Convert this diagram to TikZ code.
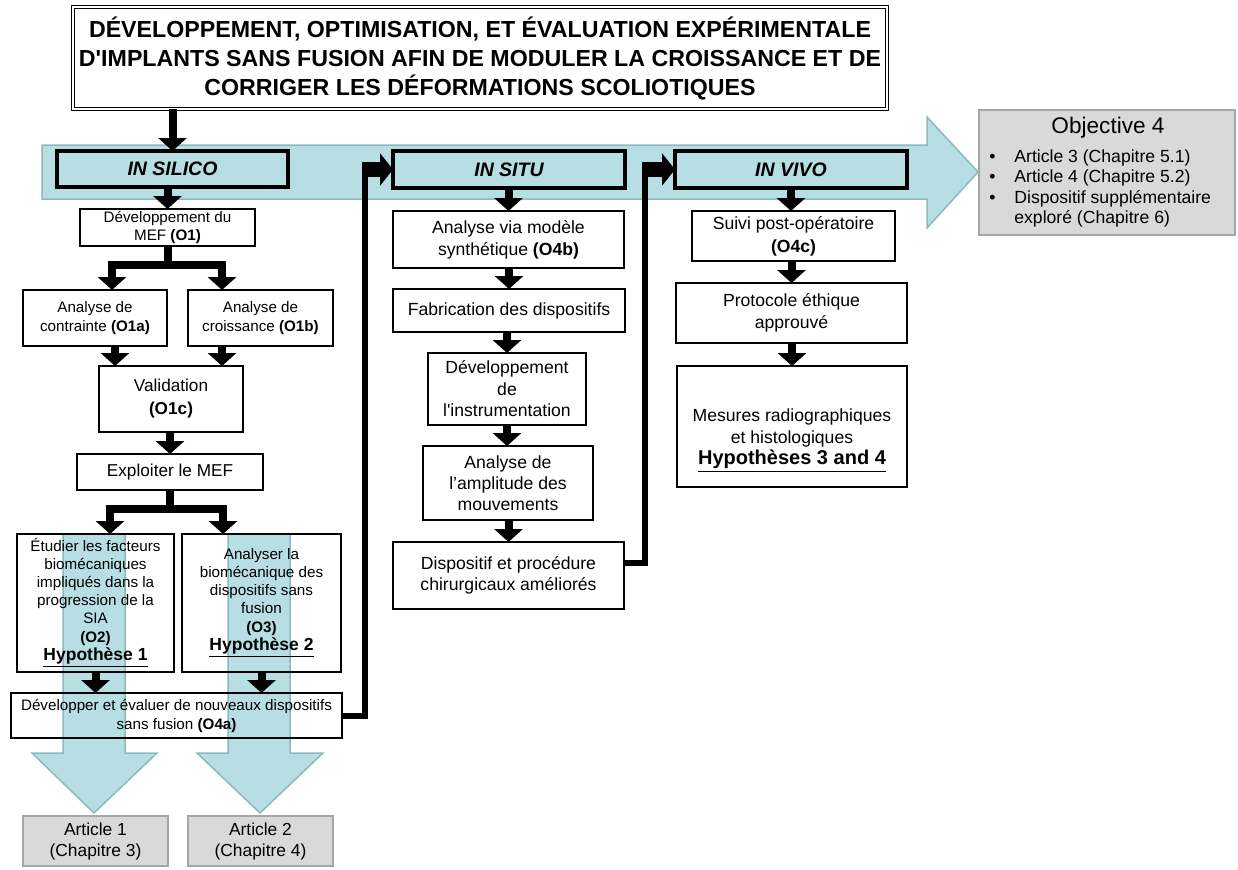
\documentclass[tikz,border=0pt]{standalone}
\usepackage{fontspec}
\setmainfont{Liberation Sans}
\usetikzlibrary{arrows.meta,calc}
\definecolor{band}{RGB}{183,222,227}
\definecolor{bandline}{RGB}{140,185,192}
\definecolor{gfill}{RGB}{217,217,217}
\definecolor{gline}{RGB}{166,166,166}
\newcommand\mybox[7]{\node[#6,minimum width={(#4-#2)*0.5pt},minimum height={(#5-#3)*0.5pt}] (#1) at ({(#2+#4)/2},{(#3+#5)/2}) {#7};}
\newcommand\fsmall{\fontsize{7.6pt}{9.1pt}\selectfont}
\newcommand\fmid{\fontsize{8.6pt}{11.5pt}\selectfont}
\newcommand\fcol{\fontsize{8.8pt}{10.75pt}\selectfont}
\begin{document}
\begin{tikzpicture}[x=0.5pt,y=-0.5pt,
  box/.style={draw=black,line width=1pt,inner sep=0pt,outer sep=0pt,align=center},
  obox/.style={box,fill=none},
  phase/.style={box,fill=band,line width=1.7pt,font=\fontsize{9.75pt}{11pt}\selectfont\bfseries\itshape},
  gbox/.style={draw=gline,fill=gfill,line width=1pt,inner sep=0pt,outer sep=0pt,align=center},
  dn/.style={line width=4pt,-{Triangle[width=14pt,length=6.5pt]}},
  conn/.style={line width=3pt},
  blk/.style={line width=7.5pt,-{Triangle[width=16pt,length=6.5pt]}},
  bluearrow/.style={fill=band,draw=bandline,line width=0.75pt}]
\useasboundingbox (0,0) rectangle (1238,869);

% big blue arrows (behind)
\path[bluearrow] (42,145) -- (927,145) -- (927,117) -- (978,172) -- (927,228) -- (927,199) -- (42,199) -- cycle;
\path[bluearrow] (63,534) -- (125,534) -- (125,753) -- (157,753) -- (94,813) -- (32,753) -- (63,753) -- cycle;
\path[bluearrow] (228,534) -- (290,534) -- (290,753) -- (323,753) -- (260,813) -- (197,753) -- (228,753) -- cycle;

% title
\mybox{title}{73}{7}{887}{109}{box,line width=0.6pt,double=white,double distance=1.2pt,font=\fontsize{11.6pt}{14.5pt}\selectfont\bfseries}{DÉVELOPPEMENT, OPTIMISATION, ET ÉVALUATION EXPÉRIMENTALE\\D\textquotesingle IMPLANTS SANS FUSION AFIN DE MODULER LA CROISSANCE ET DE\\CORRIGER LES DÉFORMATIONS SCOLIOTIQUES}

% phases
\mybox{insilico}{57}{151}{288}{187}{phase}{IN SILICO}
\mybox{insitu}{393}{151}{625}{188}{phase}{IN SITU}
\mybox{invivo}{675}{151}{907}{188}{phase}{IN VIVO}

% objective 4
\mybox{obj}{979}{110}{1235}{235}{gbox}{}
\node[font=\fontsize{11.3pt}{13pt}\selectfont,inner sep=0pt] (objt) at (1108,128) {Objective 4};
\node[anchor=base west,inner sep=0pt,font=\fontsize{8.8pt}{10.25pt}\selectfont] (objl) at (989,162)
 {\begin{tabular}[t]{@{}p{12.5pt}@{}l@{}}\textbullet & Article 3 (Chapitre 5.1)\\ \textbullet & Article 4 (Chapitre 5.2)\\ \textbullet & Dispositif supplémentaire\\ & exploré (Chapitre 6)\end{tabular}};

% in silico column
\mybox{mef}{80}{209}{255}{246}{box,font=\fsmall}{Développement du\\MEF \textbf{(O1)}}
\mybox{an1}{23}{290}{167}{346}{box,font=\fsmall}{Analyse de\\contrainte \textbf{(O1a)}}
\mybox{an2}{188}{290}{333}{346}{box,font=\fsmall}{Analyse de\\croissance \textbf{(O1b)}}
\mybox{valid}{99}{366}{243}{432}{box,font=\fmid}{Validation\\\textbf{(O1c)}}
\mybox{expl}{77}{454}{263}{490}{box,font=\fmid}{Exploiter le MEF}
\mybox{etud}{17}{534}{174}{672}{obox,font=\fsmall}{Étudier les facteurs\\biomécaniques\\impliqués dans la\\progression de la\\SIA\\\textbf{(O2)}\\{\fontsize{8.75pt}{10pt}\selectfont\bfseries\underline{Hypothèse 1}}}
\mybox{analy}{182}{534}{341}{672}{obox,font=\fsmall}{Analyser la\\biomécanique des\\dispositifs sans\\fusion\\\textbf{(O3)}\\{\fontsize{8.75pt}{10pt}\selectfont\bfseries\underline{Hypothèse 2}}}
\mybox{o4a}{11}{693}{342}{738}{obox,font=\fontsize{7.6pt}{9.5pt}\selectfont}{Développer et évaluer de nouveaux dispositifs\\sans fusion \textbf{(O4a)}}
\mybox{art1}{23}{816}{168}{866}{gbox,font=\fontsize{8.7pt}{10.5pt}\selectfont}{Article 1\\(Chapitre 3)}
\mybox{art2}{188}{816}{333}{866}{gbox,font=\fontsize{8.7pt}{10.5pt}\selectfont}{Article 2\\(Chapitre 4)}

% in situ column
\mybox{synth}{393}{211}{624}{268}{box,font=\fontsize{8.8pt}{11pt}\selectfont}{Analyse via modèle\\synthétique \textbf{(O4b)}}
\mybox{fab}{393}{289}{625}{332}{box,font=\fcol}{Fabrication des dispositifs}
\mybox{devi}{428}{353}{586}{425}{box,font=\fcol}{Développement\\de\\l\textquotesingle instrumentation}
\mybox{ampl}{423}{446}{593}{520}{box,font=\fontsize{8.8pt}{10.5pt}\selectfont}{Analyse de\\l’amplitude des\\mouvements}
\mybox{disp}{393}{542}{624}{609}{box,font=\fontsize{8.8pt}{10.5pt}\selectfont}{Dispositif et procédure\\chirurgicaux améliorés}

% in vivo column
\mybox{suivi}{692}{211}{895}{261}{box,font=\fontsize{8.8pt}{11.5pt}\selectfont}{Suivi post-opératoire\\\textbf{(O4c)}}
\mybox{proto}{676}{283}{907}{343}{box,font=\fontsize{8.8pt}{11pt}\selectfont}{Protocole éthique\\approuvé}
\mybox{mes}{677}{366}{907}{487}{box}{}
\node[align=center,inner sep=0pt,font=\fcol] (mest) at (792,441) {Mesures radiographiques\\et histologiques\\{\fontsize{10pt}{11pt}\selectfont\bfseries\underline{Hypothèses 3 and 4}}};

% guide coordinates
\coordinate (f1) at ($(mef.south)+(0,19)$);
\coordinate (f2) at ($(expl.south)+(0,19)$);
\coordinate (gA) at (112,0);
\coordinate (gB) at (222,0);
\coordinate (gC) at (115,0);
\coordinate (gD) at (110,0);
\coordinate (gE) at (223,0);
\coordinate (e1) at (365,169.5);
\coordinate (e2) at (645,169.5);
\coordinate (d1) at ($(disp.east)+(0,-13)$);

% black arrows
\draw[dn] (insilico.north |- title.south) -- (insilico.north);
\draw[dn] (mef.north |- insilico.south) -- (mef.north);
\draw[dn] (mef.south) -- (f1) -| (an1.north -| gA);
\draw[dn] (mef.south) -- (f1) -| (an2.north -| gB);
\draw[dn] (an1.south -| gC) -- (valid.north -| gC);
\draw[dn] (an2.south -| gB) -- (valid.north -| gB);
\draw[dn] (expl.north |- valid.south) -- (expl.north);
\draw[dn] (expl.south) -- (f2) -| (etud.north -| gD);
\draw[dn] (expl.south) -- (f2) -| (analy.north -| gE);
\draw[dn] (etud.south) -- (o4a.north -| etud.south);
\draw[dn] (analy.south) -- (o4a.north -| analy.south);

\draw[dn] (synth.north |- insitu.south) -- (synth.north);
\draw[dn] (fab.north |- synth.south) -- (fab.north);
\draw[dn] (devi.north |- fab.south) -- (devi.north);
\draw[dn] (devi.south) -- (ampl.north -| devi.south);
\draw[dn] (disp.north |- ampl.south) -- (disp.north);

\draw[dn] (invivo.south) -- (suivi.north -| invivo.south);
\draw[dn] (proto.north |- suivi.south) -- (proto.north);
\draw[dn] (mes.north |- proto.south) -- (mes.north);

% elbow connectors
\draw[conn] (o4a.east) -| (e1);
\draw[blk] ($(e1)+(-3,0)$) -- (insitu.west);
\draw[conn] (d1) -| (e2);
\draw[blk] ($(e2)+(-3,0)$) -- (invivo.west);
\end{tikzpicture}
\end{document}
